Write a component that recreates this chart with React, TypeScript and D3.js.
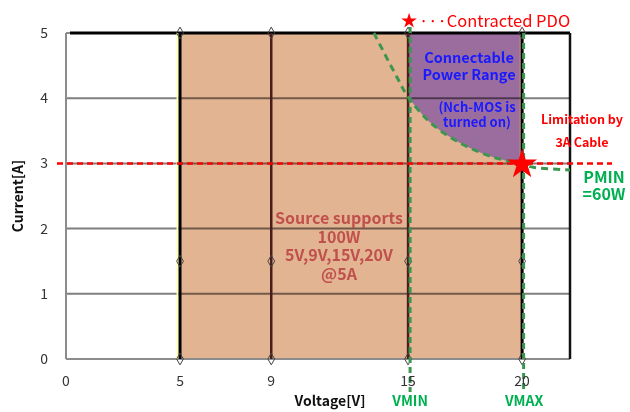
import React from 'react';
import * as d3 from 'd3';

// supported voltage levels of the source (V)
const voltageLevels = [5, 9, 15, 20];
const xTicks = [0, 5, 9, 15, 20];
const yTicks = [0, 1, 2, 3, 4, 5];
const markerCurrents = [0, 1.5, 5];
const gridCurrents = [1, 2, 3, 4];

// PMIN = 60W boundary
const pminCurve: [number, number][] = [
  [13.5, 5],
  [14.5, 4.33],
  [15, 4.02],
  [16, 3.62],
  [17.3, 3.31],
  [18.7, 3.1],
  [19.9, 3.0],
  [20.5, 2.94],
  [22.1, 2.9],
];

const vMin = 15;
const vMax = 20;
const sourceMax = 5;
const cableLimit = 3;

const sourceText = ['Source supports', '100W', '5V,9V,15V,20V', '@5A'];
const rangeText = ['Connectable', 'Power Range'];
const mosText = ['(Nch-MOS is', 'turned on)'];

const W = 630;
const H = 412;
const font = '"Noto Sans CJK JP", "Noto Sans", sans-serif';

const App: React.FC = () => {
  const x = d3.scaleLinear().domain([0, 22.1]).range([66, 570]);
  const y = d3.scaleLinear().domain([0, 5]).range([359, 33]);

  const curveLine = d3.line<[number, number]>()
    .x(d => x(d[0]))
    .y(d => y(d[1]))
    .curve(d3.curveCatmullRom);

  const rangePts = pminCurve.filter(d => d[0] >= vMin && d[0] <= vMax + 0.01);
  const rangeArea = d3.area<[number, number]>()
    .x(d => x(d[0]))
    .y0(d => y(d[1]))
    .y1(y(sourceMax))
    .curve(d3.curveCatmullRom);

  const diamond = d3.symbol(d3.symbolDiamond, 40)();
  const bigStar = d3.symbol(d3.symbolStar, 280)();
  const smallStar = d3.symbol(d3.symbolStar, 75)();

  const green = '#00b050';
  const dashGreen = '#3c9650';

  return (
    <div style={{ position: 'fixed', left: 0, top: 0 }}>
      <svg width={W} height={H} style={{ display: 'block', background: '#fff' }} fontFamily={font}>
        {/* source supported area */}
        <rect x={x(voltageLevels[0])} y={y(sourceMax)} width={x(vMax) - x(voltageLevels[0])}
          height={y(0) - y(sourceMax)} fill="#e2b492" />
        {/* connectable power range */}
        <path d={`M${x(vMin)},${y(sourceMax)}` + rangeArea(rangePts)!.replace(/^M/, 'L')} fill="#9b6d9e" />

        {/* horizontal grid */}
        {gridCurrents.map(c => (
          <line key={c} x1={x(0)} x2={x(22.1)} y1={y(c)} y2={y(c)} stroke="#7f7f7f" strokeWidth={2}
            style={{ mixBlendMode: 'multiply' }} />
        ))}

        {/* axes and frame */}
        <line x1={x(0)} x2={x(0)} y1={y(5)} y2={y(0)} stroke="#8c8c8c" strokeWidth={2} />
        <line x1={x(0)} x2={x(22.1)} y1={y(0)} y2={y(0)} stroke="#8c8c8c" strokeWidth={2} />
        <line x1={x(0)} x2={x(0) + 4} y1={y(5)} y2={y(5)} stroke="#8c8c8c" strokeWidth={2} />
        <line x1={x(0) + 4} x2={x(22.1)} y1={y(5)} y2={y(5)} stroke="#000" strokeWidth={3} />
        <line x1={x(22.1)} x2={x(22.1)} y1={y(5)} y2={y(0)} stroke="#111" strokeWidth={2.5} />

        {/* voltage level lines */}
        <line x1={x(5) - 2.5} x2={x(5) - 2.5} y1={y(5)} y2={y(0)} stroke="#ffffb0" strokeWidth={2} />
        {voltageLevels.map(v => (
          <line key={v} x1={x(v)} x2={x(v)} y1={y(5)} y2={y(0)}
            stroke={v === 5 || v === 20 ? '#000' : '#4a1c1c'} strokeWidth={v === 5 || v === 20 ? 3 : 2.5} />
        ))}
        {voltageLevels.map(v => markerCurrents.map(c => (
          <path key={`${v}-${c}`} d={diamond!} transform={`translate(${x(v)},${y(c)})`}
            fill="none" stroke="#444" strokeWidth={1} />
        )))}

        {/* VMIN / VMAX */}
        <line x1={x(vMin) + 2} x2={x(vMin) + 2} y1={27} y2={392} stroke={dashGreen} strokeWidth={3} strokeDasharray="6,4" />
        <line x1={x(vMax) + 1.5} x2={x(vMax) + 1.5} y1={33} y2={392} stroke={dashGreen} strokeWidth={3} strokeDasharray="6,4" />

        {/* PMIN curve */}
        <path d={curveLine(pminCurve)!} fill="none" stroke={dashGreen} strokeWidth={3} strokeDasharray="7,5" />

        {/* cable limitation */}
        <line x1={57} x2={612} y1={y(cableLimit)} y2={y(cableLimit)} stroke="#ff0000" strokeWidth={2.5} strokeDasharray="6,4" />

        {/* contracted PDO */}
        <path d={bigStar!} transform={`translate(${x(vMax)},${y(cableLimit) + 1})`} fill="#ff0000" />
        <path d={smallStar!} transform={`translate(${x(vMin) + 1},${21})`} fill="#ff0000" />
        <text x={419} y={27} fontSize={16.5} fill="#ff0000">{'···Contracted PDO'}</text>

        {/* annotations */}
        {rangeText.map((t, i) => (
          <text key={t} x={469} y={63 + i * 17} textAnchor="middle" fontSize={14.5} fontWeight="bold" fill="#1a1aff">{t}</text>
        ))}
        {mosText.map((t, i) => (
          <text key={t} x={477} y={112 + i * 15} textAnchor="middle" fontSize={13} fontWeight="bold" fill="#1a1aff">{t}</text>
        ))}
        {sourceText.map((t, i) => (
          <text key={t} x={339} y={224 + i * 18.5} textAnchor="middle" fontSize={16} fontWeight="bold" fill="#c0504d">{t}</text>
        ))}
        <text x={582} y={124} textAnchor="middle" fontSize={12.5} fontWeight="bold" fill="#ff0000">Limitation by</text>
        <text x={582} y={147} textAnchor="middle" fontSize={12.5} fontWeight="bold" fill="#ff0000">3A Cable</text>
        <text x={604} y={183} textAnchor="middle" fontSize={16} fontWeight="bold" fill={green}>PMIN</text>
        <text x={604} y={200} textAnchor="middle" fontSize={16} fontWeight="bold" fill={green}>=60W</text>

        {/* tick labels */}
        {yTicks.map(t => (
          <text key={t} x={48} y={y(t) + 5} textAnchor="end" fontSize={14} fill="#333">{t}</text>
        ))}
        {xTicks.map(t => (
          <text key={t} x={x(t)} y={386} textAnchor="middle" fontSize={14} fill="#333">{t}</text>
        ))}

        {/* axis titles */}
        <text x={330} y={406} textAnchor="middle" fontSize={14} fontWeight="bold" fill="#111">Voltage[V]</text>
        <text x={x(vMin) + 2} y={406} textAnchor="middle" fontSize={14} fontWeight="bold" fill={green}>VMIN</text>
        <text x={x(vMax) + 2} y={406} textAnchor="middle" fontSize={14} fontWeight="bold" fill={green}>VMAX</text>
        <text transform={`translate(23,${196}) rotate(-90)`} textAnchor="middle" fontSize={14} fontWeight="bold" fill="#111">Current[A]</text>
      </svg>
    </div>
  );
};

export default App;
